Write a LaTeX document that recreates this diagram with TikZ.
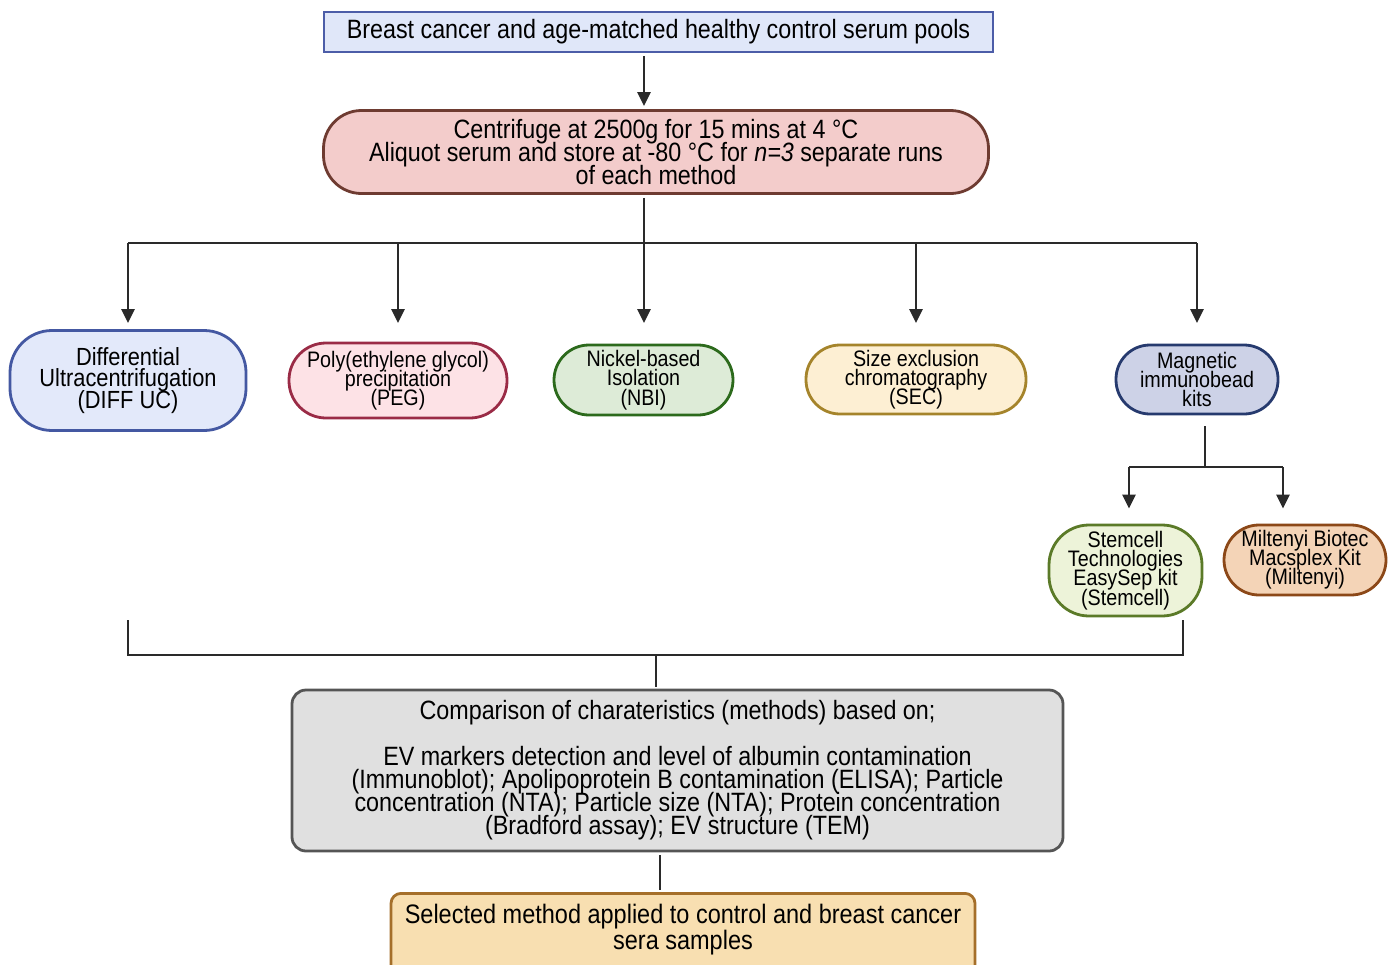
\documentclass[tikz,border=0pt]{standalone}
\usepackage{fontspec}
\setmainfont{Liberation Sans}[FakeStretch=0.88]
\usetikzlibrary{arrows.meta,positioning,calc}
\definecolor{linec}{HTML}{2A2A2A}
\definecolor{poolfill}{HTML}{E0E7F9}
\definecolor{pooldraw}{HTML}{4C5DA8}
\definecolor{spinfill}{HTML}{F3CCCB}
\definecolor{spindraw}{HTML}{6E3B31}
\definecolor{difffill}{HTML}{E3E9FA}
\definecolor{diffdraw}{HTML}{4458A2}
\definecolor{pegfill}{HTML}{FDE2E6}
\definecolor{pegdraw}{HTML}{9A2B46}
\definecolor{nbifill}{HTML}{DDEBD7}
\definecolor{nbidraw}{HTML}{2C6A1C}
\definecolor{secfill}{HTML}{FDEFD3}
\definecolor{secdraw}{HTML}{A5842B}
\definecolor{mibfill}{HTML}{CDD2E7}
\definecolor{mibdraw}{HTML}{263A6E}
\definecolor{stemfill}{HTML}{EDF3D9}
\definecolor{stemdraw}{HTML}{5B7A28}
\definecolor{miltfill}{HTML}{F4D4B7}
\definecolor{miltdraw}{HTML}{8C4818}
\definecolor{compfill}{HTML}{E0E0E0}
\definecolor{compdraw}{HTML}{555555}
\definecolor{selfill}{HTML}{F8DFB1}
\definecolor{seldraw}{HTML}{A56F2A}
\newcommand{\tightlines}{\lineskiplimit=-40pt\relax}

\begin{document}
\begin{tikzpicture}[x=1pt, y=-1pt,
    box/.style={draw, line width=2.8pt, align=center, inner sep=0pt},
    big/.style={font=\fontsize{26.5}{23}\selectfont\tightlines},
    small/.style={font=\fontsize{22.4}{19.2}\selectfont\tightlines},
    conn/.style={draw=linec, line width=2.8pt},
    arr/.style={conn, -{Triangle[length=14pt,width=13pt]}}]
    \useasboundingbox (0,0) rectangle (1392,964);

    \node[box, big, fill=poolfill, draw=pooldraw, minimum width=669, minimum height=40] (pool) at (658.5,32) {Breast cancer and age-matched healthy control serum pools};
    \node[box, big, fill=spinfill, draw=spindraw, rounded corners=38, minimum width=665, minimum height=83] (spin) at (656,152) {Centrifuge at 2500g for 15 mins at 4 °C\\Aliquot serum and store at -80 °C for \textit{n=3} separate runs\\of each method};

    \node[box, font=\fontsize{24.8}{21.5}\selectfont\tightlines, fill=difffill, draw=diffdraw, rounded corners=42, minimum width=236, minimum height=100] (diffuc) at (128,380.5) {Differential\\Ultracentrifugation\\(DIFF UC)};
    \node[box, small, fill=pegfill, draw=pegdraw, rounded corners=37, minimum width=218, minimum height=75] (peg) at (398,380.5) {Poly(ethylene glycol)\\precipitation\\(PEG)};
    \node[box, small, fill=nbifill, draw=nbidraw, rounded corners=35, minimum width=179, minimum height=70] (nbi) at (643.5,380) {Nickel-based\\Isolation\\(NBI)};
    \node[box, small, fill=secfill, draw=secdraw, rounded corners=34, minimum width=220, minimum height=69] (sec) at (916,379.5) {Size exclusion\\chromatography\\(SEC)};
    \node[box, small, fill=mibfill, draw=mibdraw, rounded corners=34, minimum width=162, minimum height=69] (mib) at (1197,379.5) {Magnetic\\immunobead\\kits};

    \node[box, small, fill=stemfill, draw=stemdraw, rounded corners=40, minimum width=153, minimum height=91] (stem) at (1125.5,570.5) {Stemcell\\Technologies\\EasySep kit\\(Stemcell)};
    \node[box, small, fill=miltfill, draw=miltdraw, rounded corners=35, minimum width=162, minimum height=70] (milt) at (1305,560) {Miltenyi Biotec\\Macsplex Kit\\(Miltenyi)};

    \node[box, big, fill=compfill, draw=compdraw, rounded corners=14, minimum width=771, minimum height=161] (comp) at (677.5,770.5) {Comparison of charateristics (methods) based on;\\[23pt]EV markers detection and level of albumin contamination\\(Immunoblot); Apolipoprotein B contamination (ELISA); Particle\\concentration (NTA); Particle size (NTA); Protein concentration\\(Bradford assay); EV structure (TEM)};
    \node[box, fill=selfill, draw=seldraw, rounded corners=10, minimum width=584, minimum height=110, anchor=north] (sel) at (683,892) {};
    \node[align=center, inner sep=0pt, font=\fontsize{26.7}{26}\selectfont\tightlines] (seltxt) at (683,930) {Selected method applied to control and breast cancer\\sera samples};

    \coordinate (hub) at (644,243);
    \coordinate (tips) at (0,323);
    \coordinate (kit) at (1205,467);
    \coordinate (kl) at (1129,467);
    \coordinate (kr) at (1283,467);
    \coordinate (cl) at (128,620);
    \coordinate (cr) at (1183,620);
    \coordinate (join) at (656,655);
    \coordinate (low) at (660,0);

    \draw[arr, shorten <=3pt, shorten >=3pt] (pool.south -| hub) -- (spin.north -| hub);
    \draw[conn, shorten <=3pt] (spin.south -| hub) -- (hub);
    \draw[conn] (diffuc.center |- hub) -- (mib.center |- hub);
    \draw[arr] (diffuc.center |- hub) -- (diffuc.center |- tips);
    \draw[arr] (peg.center |- hub) -- (peg.center |- tips);
    \draw[arr] (hub) -- (hub |- tips);
    \draw[arr] (sec.center |- hub) -- (sec.center |- tips);
    \draw[arr] (mib.center |- hub) -- (mib.center |- tips);

    \draw[conn, shorten <=11pt] (kit |- mib.south) -- (kit);
    \draw[conn] (kl) -- (kr);
    \draw[arr, shorten >=15pt] (kl) -- (kl |- stem.north);
    \draw[arr, shorten >=15pt] (kr) -- (kr |- milt.north);

    \draw[conn] (cl) |- (join) -| (cr);
    \draw[conn, shorten >=2pt] (join) -- (join |- comp.north);
    \draw[conn, shorten <=3pt, shorten >=2pt] (comp.south -| low) -- (sel.north -| low);
\end{tikzpicture}
\end{document}
